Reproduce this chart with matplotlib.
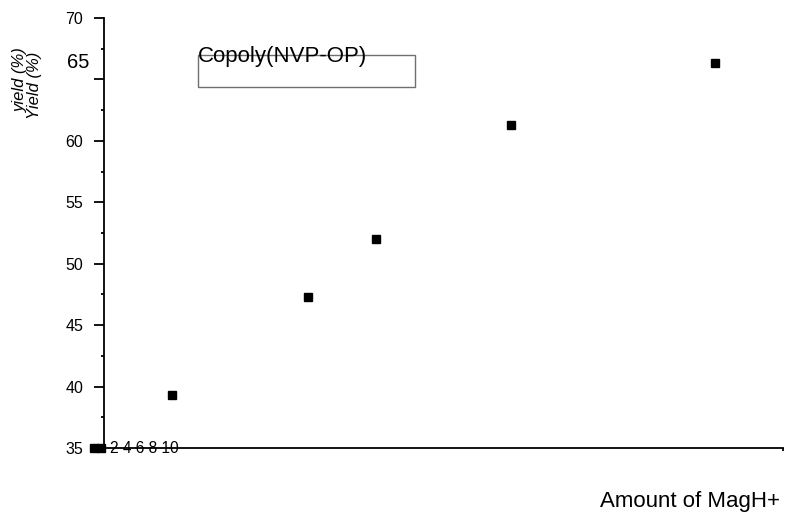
import matplotlib
matplotlib.use("Agg")
import matplotlib.pyplot as plt
from matplotlib.patches import Rectangle
from matplotlib.transforms import blended_transform_factory

plt.rcParams['font.family'] = ['Liberation Sans', 'DejaVu Sans']

# data
amount = [1, 3, 4, 6, 9]
yield_pct = [39.3, 47.3, 52.0, 61.3, 66.3]
origin_x = [-0.15, -0.05]
origin_y = [35, 35]
x_tick_labels = ['2', '4', '6', '8', '10']
y_major = [35, 40, 45, 50, 55, 60, 65, 70]
y_labels = ['35', '40', '45', '50', '55', '60', '', '70']
y_minor = [37.5, 42.5, 47.5, 52.5, 57.5, 62.5, 67.5]
legend_label = 'Copoly(NVP-OP)'
big_label = '65'
big_label_y = 66.4
xlabel = 'Amount of MagH+'
ylabel1 = 'yield (%)'
ylabel2 = 'Yield (%)'

fig = plt.figure(figsize=(7.88, 5.14), dpi=100)
ax = fig.add_axes([104/788, 1-448/514, 679/788, 430/514])
ax.set_xlim(0, 10)
ax.set_ylim(35, 70)

ax.plot(amount, yield_pct, 's', color='black', markersize=5.3, clip_on=False)
ax.plot(origin_x, origin_y, 's', color='black', markersize=5.8, clip_on=False, zorder=5)

for s in ['top', 'right']:
    ax.spines[s].set_visible(False)
for s in ['left', 'bottom']:
    ax.spines[s].set_linewidth(1.3)

ax.set_yticks(y_major)
ax.set_yticklabels(y_labels)
ax.set_yticks(y_minor, minor=True)
ax.tick_params(axis='y', which='major', direction='out', length=7.5, width=1.3,
               pad=7.5, labelsize=11.5)
ax.tick_params(axis='y', which='minor', direction='out', length=2.5, width=1.3)
ax.set_xticks([10])
ax.set_xticklabels([''])
ax.tick_params(axis='x', which='major', direction='out', length=2.5, width=1.3)

trans = blended_transform_factory(ax.transAxes, ax.transData)
ax.text(-15/679, big_label_y, big_label, transform=trans, ha='right', va='center',
        fontsize=14.5)

ax.text(0.09, 35, ' '.join(x_tick_labels), ha='left', va='center', fontsize=11.2,
        clip_on=False)

ax.add_patch(Rectangle((94/679, (448-87)/430), (415-198)/679, 32/430,
                       transform=ax.transAxes, fill=False, edgecolor='#707070',
                       linewidth=1.0, clip_on=False))
ax.text(94/679, (448-62)/430, legend_label, transform=ax.transAxes, ha='left',
        va='baseline', fontsize=16)

fig.text(780/788, 1-507/514, xlabel, ha='right', va='baseline', fontsize=16)
fig.text(20/788, 1-80/514, ylabel1, rotation=90, ha='center', va='center',
         fontsize=12, style='italic')
fig.text(34/788, 1-85/514, ylabel2, rotation=90, ha='center', va='center',
         fontsize=12, style='italic')

fig.savefig('out.png', dpi=100)
